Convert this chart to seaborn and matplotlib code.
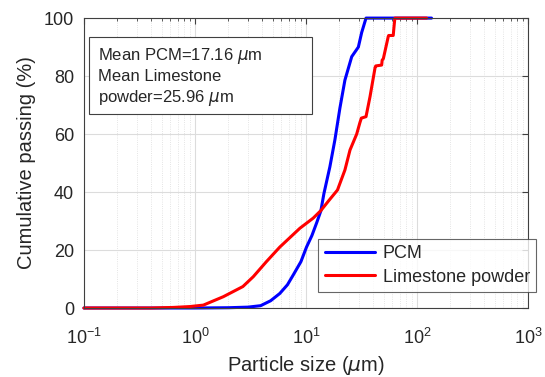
import numpy as np
import pandas as pd
import matplotlib
matplotlib.use("Agg")
import matplotlib.pyplot as plt
import matplotlib.patches as mpatches
import seaborn as sns

# PCM cumulative passing
pcm_size = [0.1, 1.0, 2.0, 3.0, 3.9, 4.8, 5.8, 6.8, 7.7, 9.0, 10.1, 11.3, 12.5,
            13.6, 14.5, 16.4, 18.2, 20.2, 22.4, 25.8, 29.6, 31.7, 34.7, 135.0]
pcm_pass = [0.0, 0.0, 0.1, 0.3, 0.8, 2.5, 5.0, 8.0, 11.5, 16.0, 21.0, 25.0, 29.5,
            33.5, 39.5, 48.7, 58.0, 69.0, 78.6, 86.7, 90.0, 95.0, 100.0, 100.0]

# Limestone powder cumulative passing
lime_size = [0.1, 0.4, 0.64, 0.9, 1.19, 1.8, 2.7, 3.35, 4.4, 5.8, 8.8, 11.6, 13.6,
             16.0, 19.2, 22.4, 24.9, 28.6, 30.6, 31.5, 34.7, 37.7, 41.9, 42.5,
             48.0, 48.5, 49.7, 55.0, 55.5, 61.0, 62.0, 63.1, 122.0]
lime_pass = [0.0, 0.0, 0.2, 0.5, 1.0, 3.9, 7.4, 10.8, 16.0, 21.0, 27.5, 31.0, 33.6,
             37.0, 40.7, 47.6, 54.5, 60.0, 64.0, 65.5, 66.0, 72.9, 83.0, 83.5,
             83.8, 85.5, 86.0, 93.6, 94.0, 94.0, 97.0, 100.0, 100.0]

df = pd.concat([
    pd.DataFrame({"size": pcm_size, "pass": pcm_pass, "name": "PCM"}),
    pd.DataFrame({"size": lime_size, "pass": lime_pass, "name": "Limestone powder"}),
])

sns.set_style("white")
plt.rcParams['font.family'] = ['Liberation Sans', 'DejaVu Sans']
plt.rcParams['mathtext.fontset'] = 'dejavusans'

fig = plt.figure(figsize=(5.45, 3.77), dpi=100)
ax = fig.add_axes([0.154, 0.183, 0.815, 0.769])

sns.lineplot(data=df, x="size", y="pass", hue="name", sort=False,
             palette={"PCM": "#0000ff", "Limestone powder": "#ff0000"},
             linewidth=2.2, ax=ax, legend=True)
for ln in ax.get_lines():
    ln.set_clip_on(False)

ax.set_xscale("log")
ax.set_xlim(0.1, 1000)
ax.set_ylim(0, 100)
ax.set_yticks([0, 20, 40, 60, 80, 100])

ax.grid(True, which="major", color="#dcdcdc", linewidth=0.8, linestyle="-")
ax.grid(True, which="minor", color="#dcdcdc", linewidth=0.6, linestyle=":")
ax.set_axisbelow(True)

for sp in ax.spines.values():
    sp.set_color("#404040")
    sp.set_linewidth(0.8)
ax.tick_params(which="both", direction="in", top=True, right=True,
               colors="#404040", labelcolor="#262626", labelsize=13)
ax.tick_params(which="major", length=4)
ax.tick_params(which="minor", length=2)
ax.tick_params(axis="x", which="major", pad=14)
ax.tick_params(axis="y", which="major", pad=7)

ax.set_xlabel(r"Particle size ($\mu$m)", fontsize=14.5, color="#262626", labelpad=5)
ax.set_ylabel("Cumulative passing (%)", fontsize=14.5, color="#262626", labelpad=6)

leg = ax.legend(loc="lower right", bbox_to_anchor=(1.018, 0.055), fontsize=13,
                frameon=True, fancybox=False, edgecolor="#404040",
                handlelength=2.8, handletextpad=0.4, borderpad=0.35,
                labelspacing=0.35, borderaxespad=0)
leg.get_frame().set_linewidth(0.8)

# mean size note
ax.add_patch(mpatches.Rectangle((0.011, 0.669), 0.503, 0.265, transform=ax.transAxes,
                                facecolor="white", edgecolor="#404040",
                                linewidth=0.8, zorder=5))
ax.text(0.032, 0.905,
        "Mean PCM=17.16 $\\mu$m\nMean Limestone\npowder=25.96 $\\mu$m",
        transform=ax.transAxes, fontsize=12, va="top", ha="left",
        color="#262626", linespacing=1.3, zorder=6)

fig.savefig("out.png", dpi=100)
